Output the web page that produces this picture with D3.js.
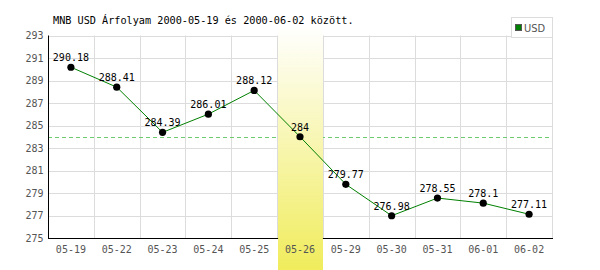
<!DOCTYPE html>
<html>
<head>
<meta charset="utf-8">
<script src="https://cdn.jsdelivr.net/npm/d3@7"></script>
<style>
  body { margin: 0; background: #fff; }
  svg { display: block; }
  .mono { font-family: "DejaVu Sans Mono", "Liberation Mono", monospace; }
</style>
</head>
<body>
<div id="chart"></div>
<script>
const WIDTH = 600;
const HEIGHT = 270;
const MARGINS = {left: 48, right: 48, top: 35.5, bottom: 32};

const dates = ["05-19", "05-22", "05-23", "05-24", "05-25", "05-26",
  "05-29", "05-30", "05-31", "06-01", "06-02"];
const usd = [290.18, 288.41, 284.39, 286.01, 288.12, 284,
  279.77, 276.98, 278.55, 278.1, 277.11];
const labels = ["290.18", "288.41", "284.39", "286.01", "288.12", "284",
  "279.77", "276.98", "278.55", "278.1", "277.11"];
const yTicks = [275, 277, 279, 281, 283, 285, 287, 289, 291, 293];
const highlight = "05-26";
const title = "MNB USD Árfolyam 2000-05-19 és 2000-06-02 között.";

let svg = d3.select("#chart")
  .append("svg")
    .attr("width", WIDTH)
    .attr("height", HEIGHT);

let x = d3.scaleBand()
  .domain(dates)
  .range([MARGINS.left, WIDTH - MARGINS.right]);

let y = d3.scaleLinear()
  .domain([275, 293])
  .range([HEIGHT - MARGINS.bottom, MARGINS.top]);

// gradient for the highlighted day
let grad = svg.append("defs").append("linearGradient")
    .attr("id", "hl")
    .attr("x1", 0).attr("y1", 0).attr("x2", 0).attr("y2", 1);
grad.append("stop").attr("offset", "0%").attr("stop-color", "#ffffff");
grad.append("stop").attr("offset", "100%").attr("stop-color", "#f0ec5c");

// grid
let grid = svg.append("g")
  .attr("stroke", "#dcdcdc")
  .attr("stroke-width", 1);
grid.selectAll(".hgrid")
  .data(yTicks)
  .enter().append("line")
    .attr("x1", x.range()[0])
    .attr("x2", x.range()[1] + 0.5)
    .attr("y1", d => Math.round(y(d)) + 0.5)
    .attr("y2", d => Math.round(y(d)) + 0.5);
grid.selectAll(".vgrid")
  .data(dates.slice(1).concat(["end"]))
  .enter().append("line")
    .attr("x1", (d, i) => Math.round(x.range()[0] + x.step() * (i + 1)) + 0.5)
    .attr("x2", (d, i) => Math.round(x.range()[0] + x.step() * (i + 1)) + 0.5)
    .attr("y1", y(293))
    .attr("y2", y(275));

// dashed reference line at the highlighted day's value
let hlValue = usd[dates.indexOf(highlight)];
svg.append("line")
  .attr("x1", x.range()[0])
  .attr("x2", x.range()[1])
  .attr("y1", Math.round(y(hlValue)) + 0.5)
  .attr("y2", Math.round(y(hlValue)) + 0.5)
  .attr("stroke", "#6fcb6f")
  .attr("stroke-dasharray", "4,3");

// axes
let yAxis = svg.append("g")
  .attr("class", "mono")
  .attr("transform", "translate(" + (MARGINS.left + 0.5) + ",0)")
  .call(d3.axisLeft(y).tickValues(yTicks).tickSize(0).tickPadding(5));
yAxis.select(".domain").attr("stroke", "#000").attr("d",
  "M0," + y(293) + "V" + (y(275) + 0.5));
yAxis.selectAll("text")
  .attr("fill", "#555")
  .style("font-size", "10px");

let xAxis = svg.append("g")
  .attr("class", "mono")
  .attr("transform", "translate(0," + (Math.round(y(275)) + 0.5) + ")")
  .call(d3.axisBottom(x).tickSize(0).tickPadding(7));
xAxis.select(".domain").remove();
xAxis.selectAll("text")
  .attr("fill", "#555")
  .style("font-size", "10px");

// highlighted band (covers grid and axis)
svg.append("rect")
  .attr("x", Math.round(x(highlight)) + 1)
  .attr("y", 26)
  .attr("width", Math.round(x.bandwidth()) - 1)
  .attr("height", HEIGHT - 26)
  .attr("fill", "url(#hl)");
xAxis.raise();
let axisY = Math.round(y(275)) + 0.5;
svg.append("line")
  .attr("x1", x.range()[0]).attr("x2", x(highlight) + 1)
  .attr("y1", axisY).attr("y2", axisY)
  .attr("stroke", "#000");
svg.append("line")
  .attr("x1", x(highlight) + x.bandwidth()).attr("x2", x.range()[1] + 1)
  .attr("y1", axisY).attr("y2", axisY)
  .attr("stroke", "#000");

// data line
let line = d3.line()
  .x((d, i) => x(dates[i]) + x.bandwidth() / 2)
  .y(d => y(d));
svg.append("path")
  .datum(usd)
  .attr("fill", "none")
  .attr("stroke", "#008000")
  .attr("stroke-width", 1)
  .attr("d", line);

svg.selectAll(".dot")
  .data(usd)
  .enter().append("circle")
    .attr("cx", (d, i) => x(dates[i]) + x.bandwidth() / 2)
    .attr("cy", d => y(d))
    .attr("r", 3.6)
    .attr("fill", "#000");

svg.selectAll(".lbl")
  .data(usd)
  .enter().append("text")
    .attr("class", "mono")
    .attr("x", (d, i) => x(dates[i]) + x.bandwidth() / 2)
    .attr("y", d => y(d) - 6)
    .attr("text-anchor", "middle")
    .style("font-size", "10px")
    .attr("fill", "#000")
    .text((d, i) => labels[i]);

// title
svg.append("text")
  .attr("class", "mono")
  .attr("x", 53)
  .attr("y", 24)
  .style("font-size", "10.2px")
  .attr("fill", "#000")
  .text(title);

// legend
svg.append("rect")
  .attr("x", 511.5).attr("y", 17.5)
  .attr("width", 41).attr("height", 20)
  .attr("fill", "#fff")
  .attr("stroke", "#dcdcdc");
svg.append("rect")
  .attr("x", 515.5).attr("y", 24.5)
  .attr("width", 6).attr("height", 6)
  .attr("fill", "#008000")
  .attr("stroke", "#555");
svg.append("text")
  .attr("x", 524)
  .attr("y", 32)
  .style("font-family", "'DejaVu Sans Condensed', 'Liberation Sans', sans-serif")
  .style("font-size", "11px")
  .attr("fill", "#555")
  .text("USD");
</script>
</body>
</html>
